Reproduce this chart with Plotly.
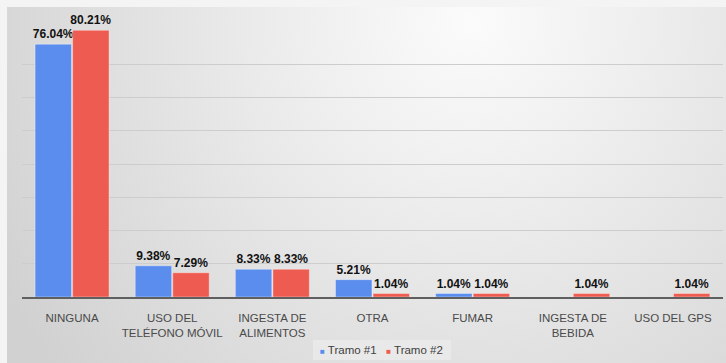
import base64
import plotly.graph_objects as go

categories = ["NINGUNA", "USO DEL<br>TELÉFONO MÓVIL", "INGESTA DE<br>ALIMENTOS", "OTRA",
              "FUMAR", "INGESTA DE<br>BEBIDA", "USO DEL GPS"]
tramo1 = [76.04, 9.38, 8.33, 5.21, 1.04, None, None]
tramo2 = [80.21, 7.29, 8.33, 1.04, 1.04, 1.04, 1.04]
series_names = ["Tramo #1", "Tramo #2"]
colors = ["#5B8DEF", "#EE5B50"]
grid_vals = [0, 10, 20, 30, 40, 50, 60, 70, 80]

W, H = 726, 363
ML, MR, MT, MB = 22, 3, 30, 66

svg = f'''<svg xmlns="http://www.w3.org/2000/svg" width="{W}" height="{H}" viewBox="0 0 {W} {H}">
<defs><radialGradient id="g" gradientUnits="userSpaceOnUse" cx="470" cy="20" r="540">
<stop offset="0" stop-color="#fbfbfb"/><stop offset="0.3" stop-color="#efefef"/>
<stop offset="0.75" stop-color="#dcdcdc"/><stop offset="1" stop-color="#d1d1d1"/>
</radialGradient></defs>
<rect x="0" y="0" width="{W}" height="{H}" fill="#f4f4f4"/>
<rect x="7" y="7" width="{W-7}" height="{H-7}" fill="url(#g)"/>
<rect x="313" y="340" width="138" height="20" fill="#eeeeee" fill-opacity="0.6"/>
</svg>'''
src = "data:image/svg+xml;base64," + base64.b64encode(svg.encode()).decode()

pw = W - ML - MR
ph = H - MT - MB

fig = go.Figure()
for name, vals, col in zip(series_names, [tramo1, tramo2], colors):
    fig.add_trace(go.Bar(
        x=categories, y=vals, name=name, showlegend=False,
        marker=dict(color=col, line=dict(color="rgba(255,255,255,0.6)", width=0.6)),
        texttemplate="%{y:.2f}%", textposition="outside",
        textfont=dict(family="Liberation Sans, Arial, sans-serif", size=12, color="#111111",
                      weight="bold"),
        cliponaxis=False, constraintext="none",
    ))

legend_text = "   ".join(
    f"<span style='color:{c};font-size:8px'>■</span> {n}" for n, c in zip(series_names, colors)
)
fig.add_annotation(text=legend_text, xref="paper", yref="paper",
                   x=(381 - ML) / pw, y=(H - MB - 350) / ph, xanchor="center", yanchor="middle",
                   showarrow=False, font=dict(size=11.5, color="#404040"))

fig.update_layout(
    width=W, height=H,
    margin=dict(l=ML, r=MR, t=MT, b=MB),
    paper_bgcolor="rgba(0,0,0,0)",
    plot_bgcolor="rgba(0,0,0,0)",
    barmode="group", bargap=0.25, bargroupgap=0.03,
    font=dict(family="Liberation Sans, Arial, sans-serif", size=11.5, color="#404040"),
    showlegend=False,
    images=[dict(source=src, xref="paper", yref="paper",
                 x=-ML / pw, y=1 + MT / ph, sizex=W / pw, sizey=H / ph,
                 sizing="stretch", layer="below", xanchor="left", yanchor="top")],
)
fig.update_xaxes(showgrid=False, showline=True, linecolor="#5f5f5f", linewidth=1.5,
                 ticks="", ticklabelstandoff=9, tickfont=dict(size=11.5, color="#4a4a4a"),
                 fixedrange=True)
fig.update_yaxes(range=[0, 80.3], showgrid=True, gridcolor="#cdcdcd", gridwidth=1,
                 tickvals=grid_vals, showticklabels=False, zeroline=False, ticks="")

fig.write_html("out.html")
